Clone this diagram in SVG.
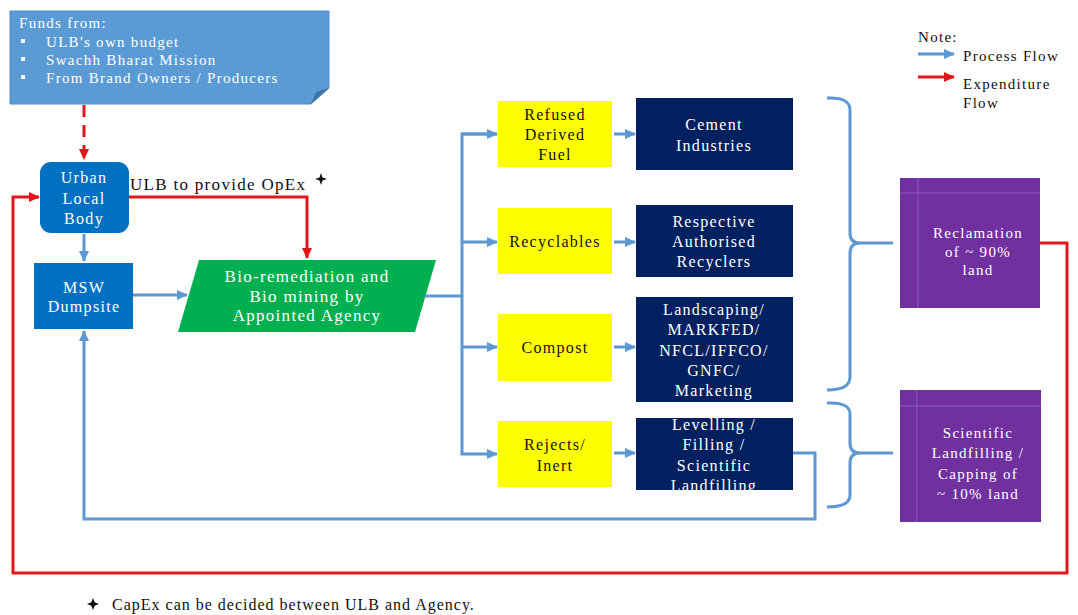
<svg xmlns="http://www.w3.org/2000/svg" width="1078" height="615" viewBox="0 0 1078 615">
<style>
text{font-family:'Liberation Serif',serif;letter-spacing:1.3px}
.c{text-anchor:middle}
.w{fill:#ffffff}
.k{fill:#111111}
.f15{font-size:15px}
.f16{font-size:16px}
.f17{font-size:17px}
.blue{fill:none;stroke:#5D98D2;stroke-width:3}
.red{fill:none;stroke:#E3161B;stroke-width:3}
</style>
<defs>
<marker id="ab" markerUnits="userSpaceOnUse" markerWidth="12" markerHeight="12" refX="10" refY="6" orient="auto">
<path d="M0,1 L11,6 L0,11 Z" fill="#5D98D2"/>
</marker>
<marker id="ar" markerUnits="userSpaceOnUse" markerWidth="12" markerHeight="12" refX="10" refY="6" orient="auto">
<path d="M0,1 L11,6 L0,11 Z" fill="#E3161B"/>
</marker>
</defs>
<rect width="1078" height="615" fill="#ffffff"/>

<g id="funds">
<path d="M10,11 H329 V88 L311,104 H10 Z" fill="#5B9BD5" stroke="#4F8CC6" stroke-width="1"/>
<path d="M311,104 L316,92 L329,88 Z" fill="#3E75A8"/>
<text class="w f15" x="19" y="28">Funds from:</text>
<rect x="21" y="39" width="4" height="4" fill="#ffffff"/>
<rect x="21" y="57" width="4" height="4" fill="#ffffff"/>
<rect x="21" y="75" width="4" height="4" fill="#ffffff"/>
<text class="w f15" x="46" y="47">ULB's own budget</text>
<text class="w f15" x="46" y="65">Swachh Bharat Mission</text>
<text class="w f15" x="46" y="83">From Brand Owners / Producers</text>
</g>

<g id="ulb">
<rect x="40" y="162" width="89" height="71" rx="11" fill="#0070C0"/>
<text class="w f16 c" x="84" y="183">Urban</text>
<text class="w f16 c" x="84" y="204">Local</text>
<text class="w f16 c" x="84" y="224">Body</text>
</g>

<g id="msw">
<rect x="34" y="263" width="99" height="66" fill="#0070C0"/>
<text class="w f16 c" x="84" y="293">MSW</text>
<text class="w f16 c" x="84" y="312">Dumpsite</text>
</g>

<g id="agency">
<path d="M199,260 H436 L415,332 H178 Z" fill="#00B050"/>
<text class="w f17 c" x="307" y="282">Bio-remediation and</text>
<text class="w f17 c" x="307" y="302">Bio mining by</text>
<text class="w f17 c" x="307" y="321">Appointed Agency</text>
</g>

<g id="rdf">
<rect x="498" y="101" width="114" height="66" fill="#FFFF00"/>
<text class="k f16 c" x="555" y="120">Refused</text>
<text class="k f16 c" x="555" y="140">Derived</text>
<text class="k f16 c" x="555" y="160">Fuel</text>
</g>
<g id="recyclables">
<rect x="498" y="208" width="114" height="66" fill="#FFFF00"/>
<text class="k f16 c" x="555" y="247">Recyclables</text>
</g>
<g id="compost">
<rect x="498" y="314" width="114" height="67" fill="#FFFF00"/>
<text class="k f16 c" x="555" y="353">Compost</text>
</g>
<g id="rejects">
<rect x="498" y="421" width="114" height="66" fill="#FFFF00"/>
<text class="k f16 c" x="555" y="450">Rejects/</text>
<text class="k f16 c" x="555" y="471">Inert</text>
</g>

<g id="cement">
<rect x="636" y="98" width="157" height="72" fill="#002060"/>
<text class="w f16 c" x="714" y="130">Cement</text>
<text class="w f16 c" x="714" y="151">Industries</text>
</g>
<g id="recyclers">
<rect x="636" y="205" width="157" height="72" fill="#002060"/>
<text class="w f16 c" x="714" y="227">Respective</text>
<text class="w f16 c" x="714" y="247">Authorised</text>
<text class="w f16 c" x="714" y="267">Recyclers</text>
</g>
<g id="landscaping">
<rect x="636" y="297" width="157" height="105" fill="#002060"/>
<text class="w f16 c" x="714" y="315">Landscaping/</text>
<text class="w f16 c" x="714" y="335">MARKFED/</text>
<text class="w f16 c" x="714" y="356">NFCL/IFFCO/</text>
<text class="w f16 c" x="714" y="376">GNFC/</text>
<text class="w f16 c" x="714" y="396">Marketing</text>
</g>
<g id="levelling">
<rect x="636" y="418" width="157" height="72" fill="#002060"/>
<text class="w f16 c" x="714" y="430">Levelling /</text>
<text class="w f16 c" x="714" y="450">Filling /</text>
<text class="w f16 c" x="714" y="471">Scientific</text>
<text class="w f16 c" x="714" y="491">Landfilling</text>
</g>

<g id="reclamation">
<rect x="900" y="178" width="140" height="130" fill="#7030A0"/>
<path d="M918,178 V308 M900,193 H1040" stroke="#8A5AC0" stroke-width="1" fill="none"/>
<text class="w f15 c" x="978" y="238">Reclamation</text>
<text class="w f15 c" x="978" y="257">of ~ 90%</text>
<text class="w f15 c" x="978" y="275">land</text>
</g>
<g id="scientific">
<rect x="900" y="390" width="141" height="132" fill="#7030A0"/>
<path d="M917,390 V522 M900,406 H1041" stroke="#8A5AC0" stroke-width="1" fill="none"/>
<text class="w f15 c" x="978" y="438">Scientific</text>
<text class="w f15 c" x="978" y="458">Landfilling /</text>
<text class="w f15 c" x="978" y="479">Capping of</text>
<text class="w f15 c" x="978" y="499">~ 10% land</text>
</g>

<g id="connectors">
<path class="blue" d="M84,234 V261" marker-end="url(#ab)"/>
<path class="blue" d="M133,295 H187" marker-end="url(#ab)"/>
<path class="blue" d="M425,296 H462"/>
<path class="blue" d="M497,134 H462 V454 H497" marker-end="url(#ab)"/>
<path class="blue" d="M462,242 H497" marker-end="url(#ab)"/>
<path class="blue" d="M462,347 H497" marker-end="url(#ab)"/>
<path class="blue" d="M462,134 H497" marker-end="url(#ab)"/>
<path class="blue" d="M614,134 H635" marker-end="url(#ab)"/>
<path class="blue" d="M614,242 H635" marker-end="url(#ab)"/>
<path class="blue" d="M614,347 H635" marker-end="url(#ab)"/>
<path class="blue" d="M614,453 H635" marker-end="url(#ab)"/>
<path class="blue" d="M793,453 H815 V519 H84 V331" marker-end="url(#ab)"/>
<path class="blue" d="M827,98 Q850,97 850,110 V233 Q850,243 860,243 Q850,243 850,253 V377 Q850,390 827,390 M860,243 H893"/>
<path class="blue" d="M827,403 Q850,402 850,414 V443 Q850,453 860,453 Q850,453 850,463 V495 Q850,507 827,507 M860,453 H893"/>
<path class="red" d="M84,105 V159" stroke-dasharray="12,8" marker-end="url(#ar)"/>
<path class="red" d="M129,197 H307 V258" marker-end="url(#ar)"/>
<path class="red" d="M1040,243 H1067 V573 H13 V197 H39" marker-end="url(#ar)"/>
<text class="k f17" x="130" y="190">ULB to provide OpEx</text>
<polygon points="321,173 322.5,177.5 327,179 322.5,180.5 321,185 319.5,180.5 315,179 319.5,177.5" fill="#111111"/>
</g>

<g id="legend">
<text class="k f15" x="918" y="42">Note:</text>
<path class="blue" d="M918,54 H954" marker-end="url(#ab)"/>
<text class="k f15" x="963" y="61">Process Flow</text>
<path class="red" d="M918,77 H954" marker-end="url(#ar)"/>
<text class="k f15" x="963" y="89">Expenditure</text>
<text class="k f15" x="963" y="108">Flow</text>
</g>

<g id="footnote">
<polygon points="93,598 94.7,602.3 99,604 94.7,605.7 93,610 91.3,605.7 87,604 91.3,602.3" fill="#111111"/>
<text class="k f16" x="112" y="610" style="letter-spacing:1px">CapEx can be decided between ULB and Agency.</text>
</g>
</svg>
